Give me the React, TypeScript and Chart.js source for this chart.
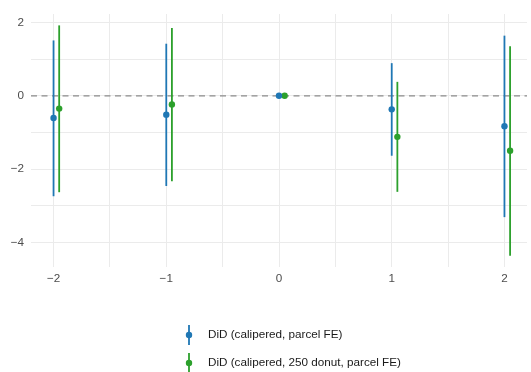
import React, { useEffect, useRef } from "react";
import { Chart, registerables } from "chart.js";

Chart.register(...registerables);

const periods = [-2, -1, 0, 1, 2];
const xTickValues = [-2, -1.5, -1, -0.5, 0, 0.5, 1, 1.5, 2];
const yTickValues = [-4, -3, -2, -1, 0, 1, 2];

const seriesLabels = ["DiD (calipered, parcel FE)", "DiD (calipered, 250 donut, parcel FE)"];
const seriesColors = ["#1f77b4", "#2ca02c"];
const seriesOffsets = [0, 0.05];

const blueEst = [-0.605, -0.515, 0, -0.37, -0.83];
const blueLow = [-2.74, -2.46, 0, -1.635, -3.31];
const blueHigh = [1.51, 1.42, 0, 0.89, 1.64];

const greenEst = [-0.35, -0.235, 0, -1.12, -1.5];
const greenLow = [-2.63, -2.33, 0, -2.62, -4.36];
const greenHigh = [1.92, 1.85, 0, 0.38, 1.35];

const FONT = "'Liberation Sans', Arial, sans-serif";
const FONT_SIZE = 11.7;
const fmt = (v: number) => (v < 0 ? "\u2212" + Math.abs(v) : String(v));

export default function App() {
  const ref = useRef<HTMLCanvasElement | null>(null);

  useEffect(() => {
    document.body.style.margin = "0";
    const canvas = ref.current;
    if (!canvas) return;

    const est = [blueEst, greenEst];
    const lows = [blueLow, greenLow];
    const highs = [blueHigh, greenHigh];

    const datasets = est.map((vals, si) => ({
      label: seriesLabels[si],
      data: periods.map((p, i) => ({ x: p + seriesOffsets[si], y: vals[i], lo: lows[si][i], hi: highs[si][i] })),
      backgroundColor: seriesColors[si],
      borderColor: seriesColors[si],
      pointRadius: 3.2,
      pointHoverRadius: 3.2,
      borderWidth: 0,
      showLine: false,
    }));

    const refLine = {
      id: "refLine",
      beforeDatasetsDraw(chart: any) {
        const { ctx, chartArea, scales } = chart;
        const y = scales.y.getPixelForValue(0);
        ctx.save();
        ctx.strokeStyle = "#8c8c8c";
        ctx.lineWidth = 1.3;
        ctx.setLineDash([6, 4.5]);
        ctx.beginPath();
        ctx.moveTo(chartArea.left, y);
        ctx.lineTo(chartArea.right, y);
        ctx.stroke();
        ctx.restore();
      },
    };

    const errorBars = {
      id: "errorBars",
      beforeDatasetsDraw(chart: any) {
        const { ctx, scales } = chart;
        ctx.save();
        chart.data.datasets.forEach((ds: any) => {
          ctx.strokeStyle = ds.borderColor;
          ctx.lineWidth = 1.8;
          ds.data.forEach((d: any) => {
            if (d.hi === d.lo) return;
            const x = scales.x.getPixelForValue(d.x);
            ctx.beginPath();
            ctx.moveTo(x, scales.y.getPixelForValue(d.lo));
            ctx.lineTo(x, scales.y.getPixelForValue(d.hi));
            ctx.stroke();
          });
        });
        ctx.restore();
      },
    };

    const customLegend = {
      id: "customLegend",
      afterDraw(chart: any) {
        const { ctx } = chart;
        ctx.save();
        ctx.font = `${FONT_SIZE}px ${FONT}`;
        ctx.textBaseline = "middle";
        ctx.textAlign = "left";
        chart.data.datasets.forEach((ds: any, i: number) => {
          const cx = 189;
          const cy = 335 + i * 28;
          ctx.strokeStyle = ds.borderColor;
          ctx.lineWidth = 1.8;
          ctx.beginPath();
          ctx.moveTo(cx, cy - 10);
          ctx.lineTo(cx, cy + 10);
          ctx.stroke();
          ctx.fillStyle = ds.backgroundColor;
          ctx.beginPath();
          ctx.arc(cx, cy, 3.2, 0, Math.PI * 2);
          ctx.fill();
          ctx.fillStyle = "#1a1a1a";
          ctx.fillText(ds.label, 208, cy);
        });
        ctx.restore();
      },
    };

    const chart = new Chart(canvas, {
      type: "scatter",
      data: { datasets },
      options: {
        animation: false,
        responsive: false,
        maintainAspectRatio: false,
        layout: { padding: { top: 13, right: 4, bottom: 85, left: 0 } },
        plugins: {
          legend: { display: false },
          tooltip: { enabled: false },
        },
        scales: {
          x: {
            type: "linear",
            min: -2.2,
            max: 2.2,
            afterBuildTicks: (s: any) => {
              s.ticks = xTickValues.map((v) => ({ value: v }));
            },
            afterFit: (s: any) => {
              s.height = 20;
            },
            grid: { color: "#ebebeb", lineWidth: 1, drawTicks: false },
            border: { display: false },
            ticks: {
              autoSkip: false,
              maxRotation: 0,
              padding: 5,
              color: "#4d4d4d",
              font: { size: FONT_SIZE, family: FONT },
              callback: (v: any) => (Number.isInteger(v) ? fmt(v) : ""),
            },
          },
          y: {
            type: "linear",
            min: -4.67,
            max: 2.23,
            afterBuildTicks: (s: any) => {
              s.ticks = yTickValues.map((v) => ({ value: v }));
            },
            afterFit: (s: any) => {
              s.width = 31;
            },
            grid: { color: "#ebebeb", lineWidth: 1, drawTicks: false },
            border: { display: false },
            ticks: {
              autoSkip: false,
              padding: 7,
              color: "#4d4d4d",
              font: { size: FONT_SIZE, family: FONT },
              callback: (v: any) => (v % 2 === 0 ? fmt(v) : ""),
            },
          },
        },
      },
      plugins: [refLine, errorBars, customLegend],
    });

    return () => chart.destroy();
  }, []);

  return (
    <div style={{ width: 531, height: 372 }}>
      <canvas ref={ref} width={531} height={372} style={{ display: "block" }} />
    </div>
  );
}
